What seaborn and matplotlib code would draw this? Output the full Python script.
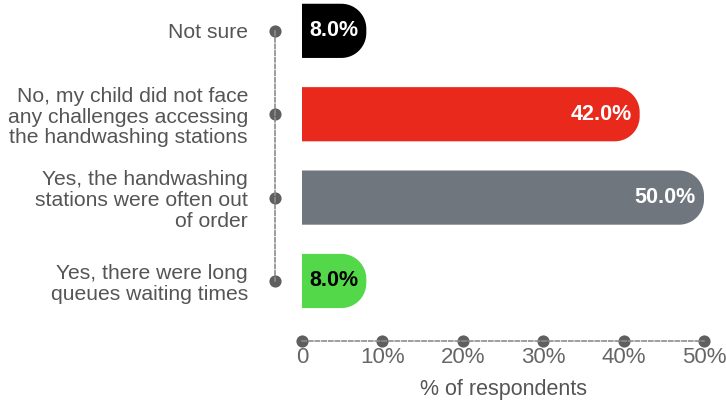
import numpy as np
import pandas as pd
import matplotlib
matplotlib.use("Agg")
import matplotlib.pyplot as plt
from matplotlib.patches import Polygon
import seaborn as sns

categories = [
    "Not sure",
    "No, my child did not face\nany challenges accessing\nthe handwashing stations",
    "Yes, the handwashing\nstations were often out\nof order",
    "Yes, there were long\nqueues waiting times",
]
values = [8.0, 42.0, 50.0, 8.0]
bar_colors = ["#000000", "#e8291c", "#6f767e", "#53d84a"]
label_colors = ["white", "white", "white", "black"]
x_ticks = [0, 10, 20, 30, 40, 50]
x_tick_labels = ["0", "10%", "20%", "30%", "40%", "50%"]

sns.set_theme(style="white")
plt.rcParams["font.family"] = ["Liberation Sans", "DejaVu Sans"]

df = pd.DataFrame({"category": categories, "value": values})

W, H, DPI = 7.26, 4.05, 100
fig = plt.figure(figsize=(W, H), dpi=DPI)
ax = fig.add_axes([302 / 726, 1 - 341 / 405, 402 / 726, 341 / 405])

sns.barplot(data=df, y="category", x="value", hue="category",
            palette=bar_colors, orient="h", width=0.65, legend=False,
            ax=ax, saturation=1)

ax.set_xlim(0, 50)
ax.set_ylim(3.72, -0.37)

# swap rectangles for bars with a rounded right end
fig.canvas.draw()
bbox = ax.get_window_extent()
px_x = bbox.width / 50.0
px_y = bbox.height / (3.72 + 0.37)
r_px = 25.0
for patch in list(ax.patches):
    x0, y0 = patch.get_x(), patch.get_y()
    w, h = patch.get_width(), patch.get_height()
    fc = patch.get_facecolor()
    patch.set_visible(False)
    rx = min(r_px / px_x, w)
    ry = min(r_px / px_y, h / 2)
    x1 = x0 + w
    y_lo, y_hi = y0, y0 + h
    pts = [(x0, y_lo), (x1 - rx, y_lo)]
    for t in np.linspace(-np.pi / 2, 0, 20):
        pts.append((x1 - rx + rx * np.cos(t), y_lo + ry + ry * np.sin(t)))
    for t in np.linspace(0, np.pi / 2, 20):
        pts.append((x1 - rx + rx * np.cos(t), y_hi - ry + ry * np.sin(t)))
    pts.append((x0, y_hi))
    ax.add_patch(Polygon(pts, closed=True, facecolor=fc, edgecolor="none"))

# value labels inside the bar ends
for i, v in enumerate(values):
    ax.annotate(f"{v:.1f}%", xy=(v, i), xytext=(-8, 0), textcoords="offset pixels",
                ha="right", va="center", color=label_colors[i],
                fontsize=15.5, fontweight="bold")

# axes styling: dashed spines with dots at the ticks
for s in ["top", "right"]:
    ax.spines[s].set_visible(False)
axis_grey = "#8c8c8c"
dot_grey = "#5f5f5f"
ax.spines["left"].set_position(("outward", 27 * 72 / DPI))
ax.spines["left"].set_bounds(0, 3)
ax.spines["bottom"].set_bounds(0, 50)
for s in ["left", "bottom"]:
    ax.spines[s].set_color(axis_grey)
    ax.spines[s].set_linestyle((0, (2.5, 1.5)))
    ax.spines[s].set_linewidth(1.2)

ax.set_xticks(x_ticks)
ax.set_xticklabels(x_tick_labels)
ax.tick_params(axis="x", length=0, pad=4, labelsize=16, labelcolor="#666666")
ax.tick_params(axis="y", length=0, pad=19.5, labelsize=15.2, labelcolor="#555555")
for t in ax.yaxis.get_major_ticks() + ax.xaxis.get_major_ticks():
    t.tick1line.set_marker("o")
    t.tick1line.set_markersize(7.5)
    t.tick1line.set_markerfacecolor(dot_grey)
    t.tick1line.set_markeredgecolor(dot_grey)
    t.tick1line.set_visible(True)
    t.tick1line.set_clip_on(False)
for lab in ax.get_yticklabels():
    lab.set_linespacing(1.12)

ax.set_ylabel("")
ax.set_xlabel("% of respondents", fontsize=15.5, color="#555555", labelpad=8)
ax.grid(False)

fig.savefig("out.png", dpi=DPI)
